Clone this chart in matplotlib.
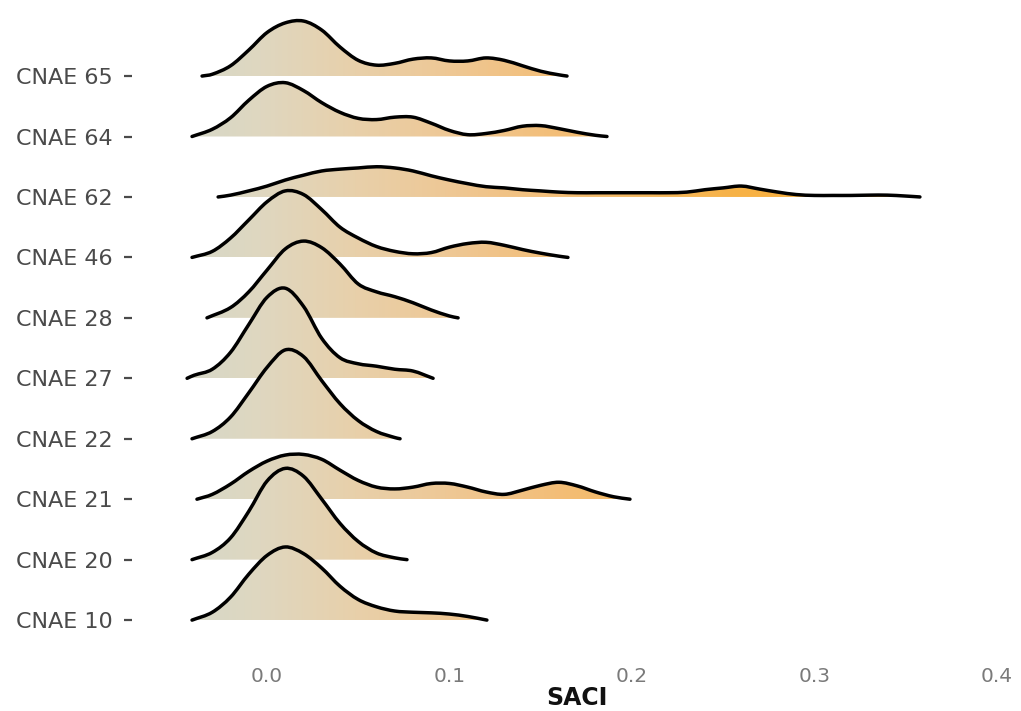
import numpy as np
import matplotlib.pyplot as plt
from matplotlib.path import Path
from matplotlib.patches import PathPatch
from matplotlib.colors import LinearSegmentedColormap

# rows, bottom to top
categories = ["CNAE 10", "CNAE 20", "CNAE 21", "CNAE 22", "CNAE 27",
              "CNAE 28", "CNAE 46", "CNAE 62", "CNAE 64", "CNAE 65"]

# density outlines: SACI value and ridge height (row units)
cnae10_x = [-0.0411, -0.03, -0.02, -0.01, 0.0, 0.01, 0.02, 0.03, 0.04, 0.05, 0.06,
            0.07, 0.08, 0.09, 0.10, 0.11, 0.1205]
cnae10_h = [0, 0.13, 0.38, 0.76, 1.07, 1.21, 1.10, 0.86, 0.56, 0.34, 0.22,
            0.15, 0.13, 0.12, 0.10, 0.06, 0]

cnae20_x = [-0.0411, -0.03, -0.02, -0.01, 0.0, 0.01, 0.02, 0.03, 0.04, 0.05, 0.06,
            0.07, 0.0767]
cnae20_h = [0, 0.12, 0.36, 0.80, 1.30, 1.51, 1.38, 1.00, 0.60, 0.30, 0.11,
            0.03, 0]

cnae21_x = [-0.0384, -0.03, -0.02, -0.01, 0.0, 0.01, 0.02, 0.03, 0.04, 0.05, 0.06,
            0.07, 0.08, 0.09, 0.10, 0.11, 0.12, 0.13, 0.14, 0.15, 0.16, 0.17,
            0.18, 0.19, 0.1989]
cnae21_h = [0, 0.08, 0.25, 0.46, 0.63, 0.73, 0.74, 0.66, 0.48, 0.31, 0.20,
            0.17, 0.20, 0.26, 0.26, 0.20, 0.12, 0.08, 0.15, 0.23, 0.28, 0.22,
            0.12, 0.04, 0]

cnae22_x = [-0.0411, -0.03, -0.02, -0.01, 0.0, 0.01, 0.02, 0.03, 0.04, 0.05, 0.06,
            0.07, 0.0729]
cnae22_h = [0, 0.12, 0.36, 0.76, 1.18, 1.47, 1.36, 0.96, 0.58, 0.30, 0.12,
            0.02, 0]

cnae27_x = [-0.0438, -0.04, -0.03, -0.02, -0.01, 0.0, 0.01, 0.02, 0.03, 0.04, 0.05,
            0.06, 0.07, 0.08, 0.091]
cnae27_h = [0, 0.05, 0.15, 0.43, 0.89, 1.34, 1.49, 1.19, 0.66, 0.34, 0.24,
            0.20, 0.15, 0.12, 0]

cnae28_x = [-0.0329, -0.02, -0.01, 0.0, 0.01, 0.02, 0.03, 0.04, 0.05, 0.06, 0.07,
            0.08, 0.09, 0.10, 0.1047]
cnae28_h = [0, 0.17, 0.43, 0.79, 1.14, 1.27, 1.16, 0.89, 0.56, 0.43, 0.35,
            0.25, 0.13, 0.03, 0]

cnae46_x = [-0.0411, -0.03, -0.02, -0.01, 0.0, 0.01, 0.02, 0.03, 0.04, 0.05, 0.06,
            0.07, 0.08, 0.09, 0.10, 0.11, 0.12, 0.13, 0.14, 0.15, 0.16, 0.1649]
cnae46_h = [0, 0.10, 0.32, 0.62, 0.92, 1.10, 1.04, 0.79, 0.50, 0.32, 0.18,
            0.10, 0.06, 0.08, 0.17, 0.23, 0.25, 0.20, 0.13, 0.07, 0.02, 0]

cnae62_x = [-0.0268, -0.02, -0.01, 0.0, 0.01, 0.02, 0.03, 0.04, 0.05, 0.06, 0.07,
            0.08, 0.09, 0.10, 0.11, 0.12, 0.13, 0.14, 0.15, 0.16, 0.17, 0.18,
            0.19, 0.20, 0.21, 0.22, 0.23, 0.24, 0.25, 0.26, 0.27, 0.28, 0.29,
            0.30, 0.31, 0.32, 0.33, 0.34, 0.35, 0.3578]
cnae62_h = [0, 0.03, 0.10, 0.18, 0.28, 0.36, 0.43, 0.46, 0.48, 0.50, 0.48,
            0.43, 0.35, 0.28, 0.22, 0.17, 0.15, 0.12, 0.10, 0.08, 0.07, 0.07,
            0.07, 0.07, 0.07, 0.07, 0.08, 0.12, 0.15, 0.18, 0.13, 0.08, 0.04,
            0.025, 0.025, 0.025, 0.03, 0.03, 0.015, 0]

cnae64_x = [-0.0411, -0.03, -0.02, -0.01, 0.0, 0.01, 0.02, 0.03, 0.04, 0.05, 0.06,
            0.07, 0.08, 0.09, 0.10, 0.11, 0.12, 0.13, 0.14, 0.15, 0.16, 0.17,
            0.18, 0.1863]
cnae64_h = [0, 0.12, 0.31, 0.60, 0.83, 0.89, 0.76, 0.56, 0.40, 0.30, 0.28,
            0.32, 0.32, 0.22, 0.10, 0.03, 0.05, 0.10, 0.17, 0.18, 0.13, 0.07,
            0.02, 0]

cnae65_x = [-0.0356, -0.03, -0.02, -0.01, 0.0, 0.01, 0.02, 0.03, 0.04, 0.05, 0.06,
            0.07, 0.08, 0.09, 0.10, 0.11, 0.12, 0.13, 0.14, 0.15, 0.16, 0.1644]
cnae65_h = [0, 0.03, 0.17, 0.43, 0.72, 0.88, 0.91, 0.76, 0.48, 0.26, 0.18,
            0.21, 0.28, 0.30, 0.25, 0.25, 0.30, 0.26, 0.17, 0.08, 0.02, 0]

curves = [(cnae10_x, cnae10_h), (cnae20_x, cnae20_h), (cnae21_x, cnae21_h),
          (cnae22_x, cnae22_h), (cnae27_x, cnae27_h), (cnae28_x, cnae28_h),
          (cnae46_x, cnae46_h), (cnae62_x, cnae62_h), (cnae64_x, cnae64_h),
          (cnae65_x, cnae65_h)]

x_ticks = [0.0, 0.1, 0.2, 0.3, 0.4]
x_ticklabels = ["0.0", "0.1", "0.2", "0.3", "0.4"]

# fill colour runs along SACI
cmap = LinearSegmentedColormap.from_list("saci", [
    (0.0, "#d6d8c8"), (0.1, "#dfd7c0"), (0.23, "#e8d0aa"), (0.35, "#eec896"),
    (0.5, "#f3be78"), (0.75, "#f7b246"), (1.0, "#f8aa32")])
grad_lo, grad_hi = -0.045, 0.36


def smooth_path(xs, ys):
    # cubic hermite through the read points, slopes from neighbours
    xs = np.asarray(xs, float)
    ys = np.asarray(ys, float)
    n = len(xs)
    m = np.zeros(n)
    m[0] = (ys[1] - ys[0]) / (xs[1] - xs[0])
    m[-1] = (ys[-1] - ys[-2]) / (xs[-1] - xs[-2])
    m[1:-1] = (ys[2:] - ys[:-2]) / (xs[2:] - xs[:-2])
    verts = [(xs[0], ys[0])]
    codes = [Path.MOVETO]
    for i in range(n - 1):
        dx = xs[i + 1] - xs[i]
        verts += [(xs[i] + dx / 3, ys[i] + m[i] * dx / 3),
                  (xs[i + 1] - dx / 3, ys[i + 1] - m[i + 1] * dx / 3),
                  (xs[i + 1], ys[i + 1])]
        codes += [Path.CURVE4] * 3
    return verts, codes


fig = plt.figure(figsize=(10.21, 7.11), dpi=100)
ax = fig.add_axes([132 / 1021, 51 / 711, 889 / 1021, 645 / 711])

for i, (xs, hs) in enumerate(curves):
    base = i
    ys = [base + h for h in hs]
    verts, codes = smooth_path(xs, ys)
    z = 20 - 2 * i

    fill_verts = verts + [(xs[-1], base), (xs[0], base), (xs[0], base)]
    fill_codes = codes + [Path.LINETO, Path.LINETO, Path.CLOSEPOLY]
    patch = PathPatch(Path(fill_verts, fill_codes), facecolor="none", edgecolor="none", zorder=z)
    ax.add_patch(patch)

    grad = np.linspace(grad_lo, grad_hi, 400).reshape(1, -1)
    im = ax.imshow(grad, cmap=cmap, vmin=grad_lo, vmax=grad_hi, aspect="auto",
                   extent=[grad_lo, grad_hi, base, base + 1.7], origin="lower",
                   interpolation="bilinear", zorder=z)
    im.set_clip_path(patch)

    outline = PathPatch(Path(verts, codes), facecolor="none", edgecolor="black",
                        lw=2.5, capstyle="round", joinstyle="round", zorder=z + 1)
    ax.add_patch(outline)

ax.set_xlim(-0.074, 0.4132)
ax.set_ylim(-0.66, 10.01)

for s in ax.spines.values():
    s.set_visible(False)

ax.set_yticks(range(len(categories)))
ax.set_yticklabels(categories, fontsize=16, color="#4a4a4a")
ax.tick_params(axis="y", length=6, width=1.6, color="#4a4a4a", pad=8)

ax.set_xticks(x_ticks)
ax.set_xticklabels(x_ticklabels, fontsize=14.5, color="#7a7a7a")
ax.tick_params(axis="x", length=0, pad=5)

ax.set_xlabel("SACI", fontsize=17, fontweight="bold", color="#111111", labelpad=0)

plt.savefig("out.png", dpi=100)
